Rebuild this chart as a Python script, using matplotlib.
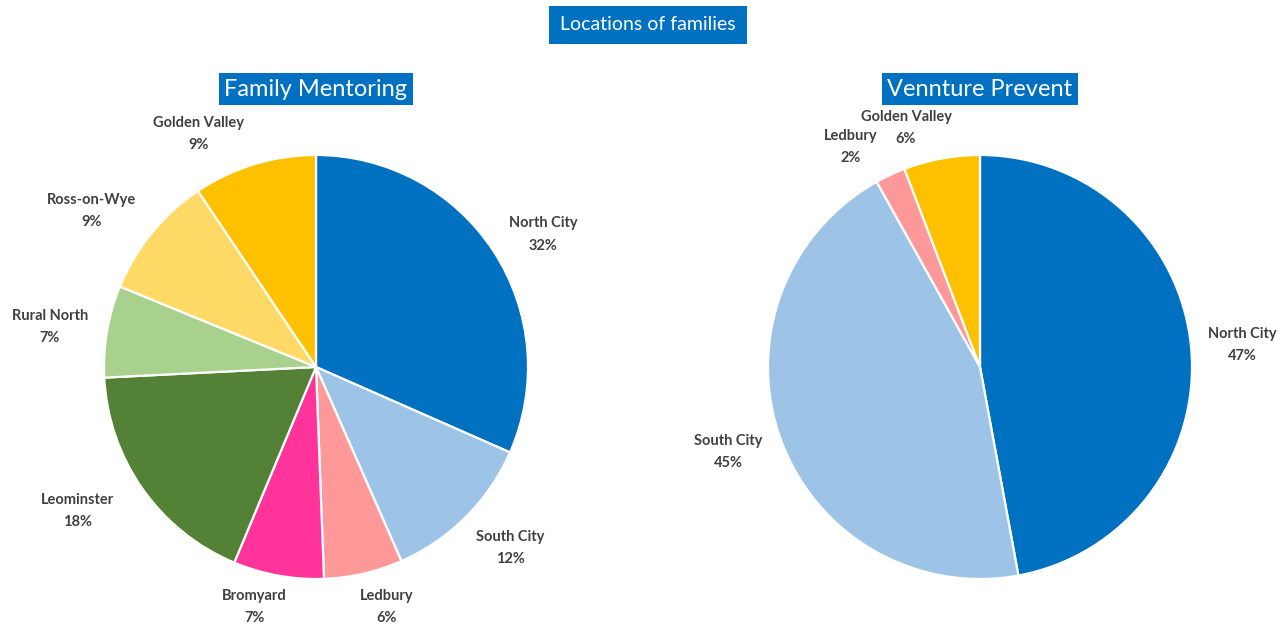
import matplotlib.pyplot as plt

# -------------------------------------------------
# Data (shares, labels show them rounded)
# -------------------------------------------------

fm_locations = ["North City", "South City", "Ledbury", "Bromyard",
                "Leominster", "Rural North", "Ross-on-Wye", "Golden Valley"]
fm_share = [31.6, 11.8, 6.0, 6.9, 17.9, 7.0, 9.4, 9.4]

vp_locations = ["North City", "South City", "Ledbury", "Golden Valley"]
vp_share = [47.1, 44.8, 2.3, 5.8]

# -------------------------------------------------
# Styles
# -------------------------------------------------

colours = {
    "North City": "#0070C0",
    "South City": "#9DC3E6",
    "Ledbury": "#FF9999",
    "Bromyard": "#FF3399",
    "Leominster": "#538135",
    "Rural North": "#A9D18E",
    "Ross-on-Wye": "#FFD966",
    "Golden Valley": "#FFC000",
}

# label positions (in units of the pie radius)
fm_label_pos = [(1.07, 0.625), (0.915, -0.855), (0.335, -1.13), (-0.29, -1.13),
                (-1.127, -0.68), (-1.255, 0.19), (-1.057, 0.735), (-0.552, 1.10)]
vp_label_pos = [(1.236, 0.103), (-1.189, -0.40), (-0.608, 1.037), (-0.349, 1.127)]

plt.rcParams["font.family"] = ["Lato", "DejaVu Sans"]

W, H = 1284, 624
R = 212.0
LINE = 22.0   # pixels between the two label lines
fig = plt.figure(figsize=(W / 100, H / 100), dpi=100)


def draw_pie(cx, cy, half_w, locations, share, label_pos, title):
    # cx, cy in pixels from top-left
    half_h = H - cy
    ax = fig.add_axes([(cx - half_w) / W, 0, 2 * half_w / W, 2 * half_h / H])
    ax.pie(
        share,
        colors=[colours[n] for n in locations],
        startangle=90,
        counterclock=False,
        radius=1,
        wedgeprops=dict(edgecolor="white", linewidth=1.6),
    )
    ax.set_xlim(-half_w / R, half_w / R)
    ax.set_ylim(-half_h / R, half_h / R)
    ax.set_aspect("auto")
    ax.axis("off")

    for name, val, (lx, ly) in zip(locations, share, label_pos):
        ax.text(lx, ly + LINE / 2 / R, name, ha="center", va="center",
                fontsize=10.5, fontweight="bold", color="#404040")
        ax.text(lx, ly - LINE / 2 / R, f"{val:.0f}%", ha="center", va="center",
                fontsize=10.5, fontweight="bold", color="#404040")

    ax.text(0, (cy - 89) / R, title, ha="center", va="center",
            fontsize=17, color="white",
            bbox=dict(boxstyle="square,pad=0.22", facecolor="#0070C0",
                      edgecolor="none"))
    return ax


draw_pie(316, 367, 316, fm_locations, fm_share, fm_label_pos, "Family Mentoring")
draw_pie(980, 367, 304, vp_locations, vp_share, vp_label_pos, "Vennture Prevent")

fig.text(648 / W, 1 - 25 / H, "Locations of families", ha="center", va="center",
         fontsize=14, color="white",
         bbox=dict(boxstyle="square,pad=0.55", facecolor="#0070C0",
                   edgecolor="none"))

fig.savefig("out.png", dpi=100)
plt.close(fig)
